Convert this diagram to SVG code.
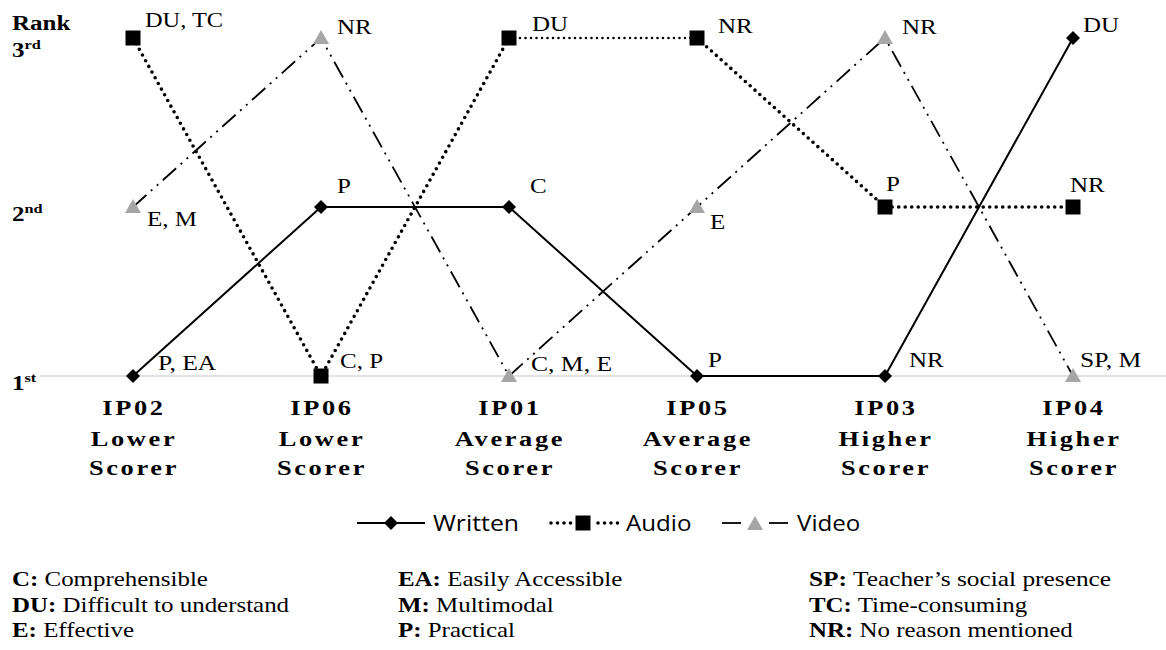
<svg xmlns="http://www.w3.org/2000/svg" width="1166" height="650" viewBox="0 0 1166 650">
<style>
.t{font-family:"Liberation Serif","Times New Roman",serif;font-size:20px;font-weight:400;fill:#000}
.f{font-family:"Liberation Serif","Times New Roman",serif;font-size:21.5px;fill:#000}
.sb{font-weight:bold}
.r{font-family:"Liberation Serif","Times New Roman",serif;font-size:20px;font-weight:bold;fill:#000}
.ax{font-family:"Liberation Serif","Times New Roman",serif;font-size:22px;font-weight:bold;letter-spacing:2.2px;text-anchor:middle;fill:#000}
.lg{font-family:"Open Sans","Liberation Sans",sans-serif;font-size:21px;fill:#000}
.w{fill:none;stroke:#000;stroke-width:2}
.a{fill:none;stroke:#000;stroke-width:3.6;stroke-linecap:round;stroke-dasharray:0 6.5}
.a2{fill:none;stroke:#000;stroke-width:2.6;stroke-linecap:round;stroke-dasharray:0 5.5}
.v{fill:none;stroke:#000;stroke-width:1.8;stroke-dasharray:18 6 2 6 2 6}
.dm{fill:#000}
.sq{fill:#000}
.tr{fill:#a6a6a6}
</style>
<defs>
<path id="dia" d="M0,-7 L7,0 L0,7 L-7,0 Z"/>
<rect id="sqr" x="-7.5" y="-7.5" width="15" height="15"/>
<path id="tri" d="M0,-8 L8,6 L-8,6 Z"/>
</defs>
<rect width="1166" height="650" fill="#fff"/>
<g id="axis">
<line x1="40" y1="376" x2="1166" y2="376" stroke="#d9d9d9" stroke-width="1.5"/>
<text class="r" transform="translate(12 30) scale(1.25 1)">Rank</text>
<text class="r" transform="translate(12 57) scale(1.25 1)">3<tspan font-size="13" dy="-8">rd</tspan></text>
<text class="r" transform="translate(12 221) scale(1.25 1)">2<tspan font-size="13" dy="-8">nd</tspan></text>
<text class="r" transform="translate(12 390) scale(1.25 1)">1<tspan font-size="13" dy="-8">st</tspan></text>
</g>
<g id="connectors">
<polyline id="written-line" class="w" points="133,376 321,207 509,207 697,376 885,376 1073,38"/>
<polyline id="audio-line-a" class="a" points="133,38 321,376 509,38"/>
<polyline id="audio-line-b" class="a2" points="509,38 697,38"/>
<polyline id="audio-line-c" class="a" points="697,38 885,207 1073,207"/>
<polyline id="video-line" class="v" points="133,207 321,38 509,376 697,207 885,38 1073,376"/>
</g>
<g id="written-markers">
<use href="#dia" class="dm" x="133" y="376"/>
<use href="#dia" class="dm" x="321" y="207"/>
<use href="#dia" class="dm" x="509" y="207"/>
<use href="#dia" class="dm" x="697" y="376"/>
<use href="#dia" class="dm" x="885" y="376"/>
<use href="#dia" class="dm" x="1073" y="38"/>
</g>
<g id="audio-markers">
<use href="#sqr" class="sq" x="133" y="38"/>
<use href="#sqr" class="sq" x="321" y="376"/>
<use href="#sqr" class="sq" x="509" y="38"/>
<use href="#sqr" class="sq" x="697" y="38"/>
<use href="#sqr" class="sq" x="885" y="207"/>
<use href="#sqr" class="sq" x="1073" y="207"/>
</g>
<g id="video-markers">
<use href="#tri" class="tr" x="133" y="207"/>
<use href="#tri" class="tr" x="321" y="38"/>
<use href="#tri" class="tr" x="509" y="376"/>
<use href="#tri" class="tr" x="697" y="207"/>
<use href="#tri" class="tr" x="885" y="38"/>
<use href="#tri" class="tr" x="1073" y="376"/>
</g>
<g id="point-labels">
<text class="t" transform="translate(145 27) scale(1.22 1)">DU, TC</text>
<text class="t" transform="translate(337 34) scale(1.25 1)">NR</text>
<text class="t" transform="translate(532 31) scale(1.25 1)">DU</text>
<text class="t" transform="translate(718 33) scale(1.25 1)">NR</text>
<text class="t" transform="translate(902 34) scale(1.25 1)">NR</text>
<text class="t" transform="translate(1083 32) scale(1.25 1)">DU</text>
<text class="t" transform="translate(147 226) scale(1.25 1)">E, M</text>
<text class="t" transform="translate(337 193) scale(1.25 1)">P</text>
<text class="t" transform="translate(530 193) scale(1.25 1)">C</text>
<text class="t" transform="translate(710 229) scale(1.25 1)">E</text>
<text class="t" transform="translate(886 191) scale(1.25 1)">P</text>
<text class="t" transform="translate(1070 192) scale(1.25 1)">NR</text>
<text class="t" transform="translate(158 370) scale(1.28 1)">P, EA</text>
<text class="t" transform="translate(340 368) scale(1.25 1)">C, P</text>
<text class="t" transform="translate(531 371) scale(1.28 1)">C, M, E</text>
<text class="t" transform="translate(708 367) scale(1.25 1)">P</text>
<text class="t" transform="translate(909 367) scale(1.25 1)">NR</text>
<text class="t" transform="translate(1080 367) scale(1.28 1)">SP, M</text>
</g>
<g id="x-labels">
<g transform="translate(134 0) scale(1.2 1)"><text class="ax" y="415">IP02</text><text class="ax" y="446">Lower</text><text class="ax" y="475">Scorer</text></g>
<g transform="translate(322 0) scale(1.2 1)"><text class="ax" y="415">IP06</text><text class="ax" y="446">Lower</text><text class="ax" y="475">Scorer</text></g>
<g transform="translate(510 0) scale(1.2 1)"><text class="ax" y="415">IP01</text><text class="ax" y="446">Average</text><text class="ax" y="475">Scorer</text></g>
<g transform="translate(698 0) scale(1.2 1)"><text class="ax" y="415">IP05</text><text class="ax" y="446">Average</text><text class="ax" y="475">Scorer</text></g>
<g transform="translate(886 0) scale(1.2 1)"><text class="ax" y="415">IP03</text><text class="ax" y="446">Higher</text><text class="ax" y="475">Scorer</text></g>
<g transform="translate(1074 0) scale(1.2 1)"><text class="ax" y="415">IP04</text><text class="ax" y="446">Higher</text><text class="ax" y="475">Scorer</text></g>
</g>
<g id="legend">
<line x1="357" y1="523" x2="425" y2="523" stroke="#000" stroke-width="2"/>
<use href="#dia" class="dm" x="391" y="523"/>
<text class="lg" transform="translate(433 531) scale(1.18 1)">Written</text>
<line x1="551" y1="523" x2="572" y2="523" class="a" stroke-width="3" stroke-dasharray="0 7"/>
<use href="#sqr" class="sq" x="583" y="523"/>
<line x1="598" y1="523" x2="619" y2="523" class="a" stroke-width="3" stroke-dasharray="0 7"/>
<text class="lg" transform="translate(626 531) scale(1.15 1)">Audio</text>
<line x1="722" y1="523" x2="741" y2="523" stroke="#000" stroke-width="1.8"/>
<use href="#tri" class="tr" x="755" y="524"/>
<line x1="769" y1="523" x2="788" y2="523" stroke="#000" stroke-width="1.8"/>
<text class="lg" transform="translate(797 531) scale(1.15 1)">Video</text>
</g>
<g id="abbreviations">
<text class="f" transform="translate(12 586) scale(1.16 1)"><tspan class="sb">C:</tspan> Comprehensible</text>
<text class="f" transform="translate(12 612) scale(1.16 1)"><tspan class="sb">DU:</tspan> Difficult to understand</text>
<text class="f" transform="translate(12 637) scale(1.16 1)"><tspan class="sb">E:</tspan> Effective</text>
<text class="f" transform="translate(398 586) scale(1.16 1)"><tspan class="sb">EA:</tspan> Easily Accessible</text>
<text class="f" transform="translate(398 612) scale(1.16 1)"><tspan class="sb">M:</tspan> Multimodal</text>
<text class="f" transform="translate(398 637) scale(1.16 1)"><tspan class="sb">P:</tspan> Practical</text>
<text class="f" transform="translate(809 586) scale(1.18 1)"><tspan class="sb">SP:</tspan> Teacher’s social presence</text>
<text class="f" transform="translate(809 612) scale(1.16 1)"><tspan class="sb">TC:</tspan> Time-consuming</text>
<text class="f" transform="translate(809 637) scale(1.16 1)"><tspan class="sb">NR:</tspan> No reason mentioned</text>
</g>
</svg>
